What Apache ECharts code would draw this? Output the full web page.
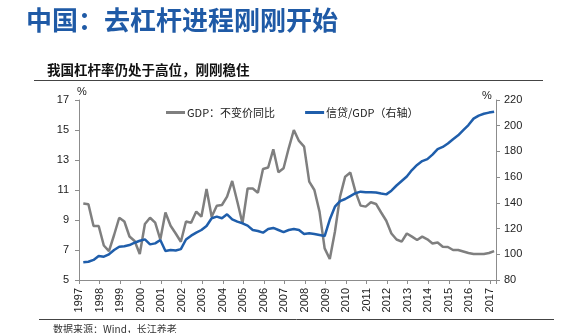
<!DOCTYPE html>
<html><head><meta charset="utf-8">
<script src="https://cdn.jsdelivr.net/npm/echarts@6/dist/echarts.min.js"></script>
<style>html,body{margin:0;padding:0;background:#fff;}#c{width:563px;height:333px;}</style>
</head><body><div id="c"></div>
<script>
// quarterly periods 1997Q1 .. 2017Q1
const quarters = [];
for (let y = 1997; y <= 2017; y++) for (let q = 1; q <= 4; q++) { if (y === 2017 && q > 1) break; quarters.push(y + 'Q' + q); }

// GDP: constant price YoY (%) — left axis
const gdpYoY = [
 10.1,10.05,8.6,8.6, 7.3,6.93,8.0,9.15, 8.9,7.9,7.6,6.73, 8.73,9.15,8.82,7.7,
 9.5,8.62,8.1,7.55, 8.9,8.82,9.56,9.22, 11.07,9.22,9.95,10.0, 10.56,11.6,10.22,8.78,
 11.1,11.1,10.82,12.4, 12.5,13.71,12.18,12.45, 13.78,15.0,14.27,13.89, 11.56,11.0,9.56,7.11,
 6.4,8.22,10.56,11.89, 12.16,10.89,9.96,9.89, 10.18,10.07,9.5,8.95, 8.1,7.7,7.56,8.1,
 7.89,7.67,7.89,7.71, 7.44,7.5,7.22,7.2, 7.0,7.0,6.9,6.8, 6.73,6.73,6.73,6.8, 6.93
];
// Credit / GDP (%) — right axis
const creditGdp = [
 93.8,94.2,95.6,98.7, 98.1,100,103.3,105.9, 106.2,107.2,109,110.5, 111.6,107.7,108.5,111.1,
 102.6,103.3,103,104, 111.5,114.5,116.8,118.9, 122,128,129.3,128, 131.1,127.2,125.4,124.1,
 122.3,118.9,118.1,116.8, 119.7,120.5,118.9,117.3, 118.9,119.7,118.9,115.8, 116.3,115.8,115,114.2,
 127,137,141.4,143, 145.3,147.5,148.7,148.3, 148.2,148.0,147.2,146.6, 149.5,153.5,157,160.5,
 165.5,169.5,172.5,174, 177.5,181.8,183.5,186.2, 189.5,192.5,196.5,200.5, 205.5,207.9,209.3,210.2, 210.9
];
const leftTicks = [5, 17, 2];      // min, max, step
const rightTicks = [80, 220, 20];
const xYears = [1997, 2017];

function qx(label) { const y = +label.slice(0, 4), q = +label.slice(5); return y + (q * 3 - 0.5) / 12; }
const gdpData = quarters.map((p, i) => [qx(p), gdpYoY[i]]);
const creditData = quarters.map((p, i) => [qx(p), creditGdp[i]]);

const numFont = 'Liberation Sans';
const cjk = '"Noto Sans CJK SC", sans-serif';
const axisColor = '#8c8c8c';

const chart = echarts.init(document.getElementById('c'), null, {renderer: 'canvas'});
chart.setOption({
  animation: false,
  backgroundColor: '#fff',
  title: [
    {text: '中国：去杠杆进程刚刚开始', left: 21, top: 2,
     textStyle: {fontFamily: cjk, fontSize: 26, fontWeight: 'bold', color: '#1F5AA6'}},
    {text: '我国杠杆率仍处于高位，刚刚稳住', left: 42, top: 58,
     textStyle: {fontFamily: cjk, fontSize: 13.5, fontWeight: 'bold', color: '#111'}},
    {text: '数据来源：Wind，长江养老', left: 48, top: 319,
     textStyle: {fontFamily: '"Noto Sans CJK SC", serif', fontSize: 10, fontWeight: 'normal', color: '#333'}}
  ],
  graphic: [
    {type: 'line', shape: {x1: 34, y1: 80.5, x2: 543, y2: 80.5}, style: {stroke: '#444', lineWidth: 1.2}},
    {type: 'line', shape: {x1: 39, y1: 319.5, x2: 554, y2: 319.5}, style: {stroke: '#444', lineWidth: 1}},
    {type: 'text', left: 77, top: 86, style: {text: '%', font: '11px ' + numFont, fill: '#222'}},
    {type: 'text', left: 482, top: 90, style: {text: '%', font: '11px ' + numFont, fill: '#222'}}
  ],
  legend: {
    left: 161, top: 102, itemGap: 30, itemWidth: 19, itemHeight: 3, icon: 'rect',
    textStyle: {fontFamily: cjk, fontSize: 11, color: '#222', padding: [0, 0, 0, -3]},
    data: ['GDP：不变价同比', '信贷/GDP（右轴）']
  },
  grid: {left: 79, right: 67, top: 100, bottom: 53},
  xAxis: {
    type: 'value', min: xYears[0], max: 2017.3, interval: 1,
    axisLine: {lineStyle: {color: axisColor}},
    axisTick: {show: true, length: 4, inside: false, lineStyle: {color: axisColor}},
    splitLine: {show: false},
    axisLabel: {rotate: 90, margin: 8, fontFamily: numFont, fontSize: 11, color: '#222',
      formatter: v => Number.isInteger(v) && v <= xYears[1] ? String(v) : ''}
  },
  yAxis: [
    {type: 'value', min: leftTicks[0], max: leftTicks[1], interval: leftTicks[2], position: 'left',
     axisLine: {show: true, lineStyle: {color: axisColor}},
     axisTick: {show: true, length: 4, lineStyle: {color: axisColor}},
     splitLine: {show: false},
     axisLabel: {margin: 10, fontFamily: numFont, fontSize: 11, color: '#222'}},
    {type: 'value', min: rightTicks[0], max: rightTicks[1], interval: rightTicks[2], position: 'right',
     axisLine: {show: true, lineStyle: {color: axisColor}},
     axisTick: {show: true, length: 4, lineStyle: {color: axisColor}},
     splitLine: {show: false},
     axisLabel: {margin: 8, fontFamily: numFont, fontSize: 11, color: '#222'}}
  ],
  series: [
    {name: 'GDP：不变价同比', type: 'line', yAxisIndex: 0, data: gdpData, showSymbol: false,
     lineStyle: {color: '#7f7f7f', width: 2.5}, itemStyle: {color: '#7f7f7f'}},
    {name: '信贷/GDP（右轴）', type: 'line', yAxisIndex: 1, data: creditData, showSymbol: false,
     lineStyle: {color: '#1F5EAB', width: 2.5}, itemStyle: {color: '#1F5EAB'}}
  ]
});
</script></body></html>
